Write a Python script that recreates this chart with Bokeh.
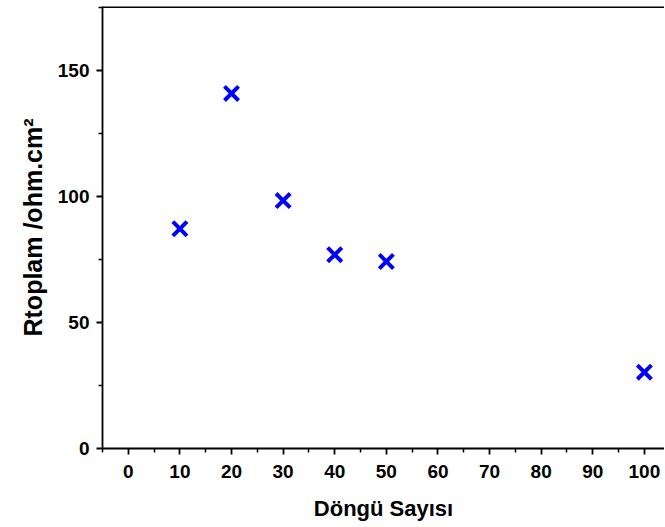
from bokeh.plotting import figure
from bokeh.models import Range1d, Span, FixedTicker
from bokeh.embed import file_html
from bokeh.resources import INLINE

# data
cycles = [10, 20, 30, 40, 50, 100]
r_total = [87.2, 140.9, 98.4, 76.9, 74.2, 30.3]
x_ticks = [0, 10, 20, 30, 40, 50, 60, 70, 80, 90, 100]
y_ticks = [0, 50, 100, 150]

X_START, X_END = -5, 103.9
Y_START, Y_END = 0, 175.4

FONT = "Liberation Sans"

p = figure(width=664, height=525, output_backend="svg", toolbar_location=None,
           x_range=Range1d(X_START, X_END), y_range=Range1d(Y_START, Y_END),
           min_border_left=102, min_border_right=0, min_border_top=6, min_border_bottom=77)

p.scatter(cycles, r_total, marker="x", size=20, line_width=4, line_color="#0000FF")

p.outline_line_color = None
p.grid.grid_line_color = None
p.background_fill_color = "white"

top = Span(location=Y_END, dimension="width", line_color="black", line_width=3)
p.add_layout(top)

for ax in (p.xaxis[0], p.yaxis[0]):
    ax.axis_line_width = 1.8
    ax.axis_line_color = "black"
    ax.major_tick_line_width = 1.8
    ax.minor_tick_line_width = 1.5
    ax.major_tick_in = 0
    ax.major_tick_out = 6
    ax.minor_tick_in = 0
    ax.minor_tick_out = 4
    ax.major_label_text_font = FONT
    ax.major_label_text_font_style = "bold"
    ax.major_label_text_font_size = "19px"
    ax.major_label_text_color = "black"
    ax.axis_label_text_font = FONT
    ax.axis_label_text_font_style = "bold"
    ax.axis_label_text_color = "black"

p.xaxis[0].ticker = FixedTicker(ticks=x_ticks, minor_ticks=[x + 5 for x in [-10] + x_ticks])
p.yaxis[0].ticker = FixedTicker(ticks=y_ticks, minor_ticks=[25, 75, 125, 175])
p.xaxis[0].major_label_standoff = 10
p.yaxis[0].major_label_standoff = 7

p.xaxis[0].axis_label = "Döngü Sayısı"
p.xaxis[0].axis_label_text_font_size = "22px"
p.xaxis[0].axis_label_standoff = 15

p.yaxis[0].axis_label = "Rtoplam /ohm.cm²"
p.yaxis[0].axis_label_text_font_size = "25px"
p.yaxis[0].axis_label_standoff = 8

open("out.html", "w").write(file_html(p, INLINE))
